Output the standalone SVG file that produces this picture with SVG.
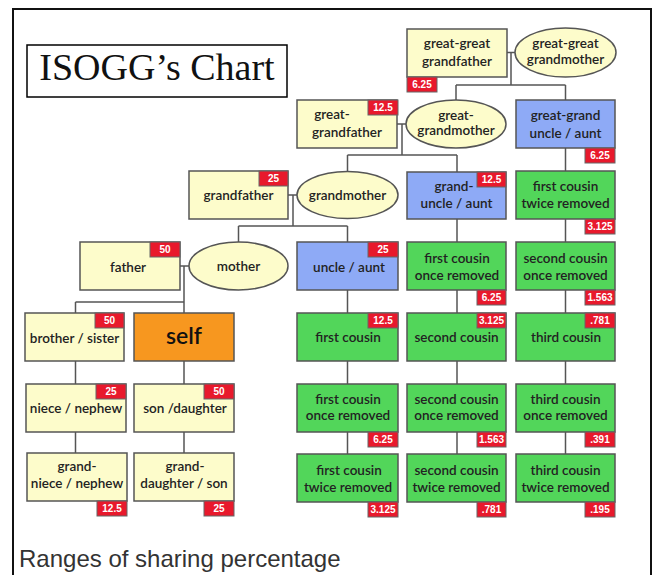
<svg xmlns="http://www.w3.org/2000/svg" width="655" height="575" viewBox="0 0 655 575">
<style>
.bx{stroke:#555;stroke-width:1.5}
.cr{fill:#fdfccb}
.bl{fill:#8eaaf6}
.gr{fill:#52d65a}
.or{fill:#f7971f}
.t{font-family:Lato,"Liberation Sans",sans-serif;font-size:13.5px;font-weight:600;fill:#222;text-anchor:middle}
.bd rect{fill:#e8192c;stroke:#666;stroke-width:1}
.bd text{font-family:"Liberation Sans",Arial,sans-serif;font-size:10px;font-weight:bold;fill:#fff;text-anchor:middle}
.cn{fill:none;stroke:#555;stroke-width:1.5}
</style>
<rect width="655" height="575" fill="#fff"/>
<path d="M13,580 V9 H651 V580" fill="none" stroke="#111" stroke-width="2"/>
<g id="title">
<rect x="27" y="45" width="260" height="52" fill="#fff" stroke="#000" stroke-width="1.5"/>
<text x="157" y="80" font-family="Liberation Serif,serif" font-size="38" text-anchor="middle" fill="#111">ISOGG’s Chart</text>
</g>
<g id="connectors" class="cn">
<path d="M507,52.5 H515 M511,52.5 V85 M456,85 H565.5 M456,85 V100 M565.5,85 V100"/>
<path d="M397,124 H406 M402,124 V155 M347.5,155 H457 M347.5,155 V172 M457,155 V172"/>
<path d="M288,195 H297 M293,195 V226 M238.5,226 H347.5 M238.5,226 V242 M347.5,226 V242"/>
<path d="M180,266 H189 M184,266 V302 M75.5,302 H184 M75.5,302 V313 M184,302 V313"/>
<path d="M75.5,361 V384 M75.5,432 V454"/>
<path d="M184,361 V384 M184,432 V454"/>
<path d="M347.5,290 V313 M347.5,361 V384 M347.5,432 V454"/>
<path d="M457,219 V242 M457,290 V313 M457,361 V384 M457,432 V454"/>
<path d="M565.5,148 V171 M565.5,219 V242 M565.5,290 V313 M565.5,361 V384 M565.5,432 V454"/>
</g>
<g id="ggf"><rect class="bx cr" x="407" y="29" width="100" height="48"/><text class="t" x="457" y="48">great-great</text><text class="t" x="457" y="66">grandfather</text>
<g class="bd"><rect x="407" y="77" width="30" height="15"/><text x="422" y="88">6.25</text></g></g>
<g id="ggm"><ellipse class="bx cr" cx="565.5" cy="52.5" rx="50.5" ry="24.5"/><text class="t" x="565.5" y="48">great-great</text><text class="t" x="565.5" y="64">grandmother</text></g>
<g id="gf2"><rect class="bx cr" x="297" y="100" width="100" height="48"/><text class="t" x="332" y="119">great-</text><text class="t" x="347" y="137">grandfather</text>
<g class="bd"><rect x="368" y="100" width="30" height="15"/><text x="383" y="111">12.5</text></g></g>
<g id="gm2"><ellipse class="bx cr" cx="456" cy="124" rx="50" ry="24"/><text class="t" x="456" y="120">great-</text><text class="t" x="456" y="135">grandmother</text></g>
<g id="ggua"><rect class="bx bl" x="516" y="100" width="99" height="48"/><text class="t" x="565.5" y="120">great-grand</text><text class="t" x="565.5" y="138">uncle / aunt</text>
<g class="bd"><rect x="585" y="148" width="30" height="15"/><text x="600" y="159">6.25</text></g></g>
<g id="gf"><rect class="bx cr" x="189" y="171" width="99" height="48"/><text class="t" x="238.5" y="200">grandfather</text>
<g class="bd"><rect x="259" y="171" width="29" height="15"/><text x="273.5" y="182">25</text></g></g>
<g id="gm"><ellipse class="bx cr" cx="347.5" cy="195" rx="50.5" ry="23.5"/><text class="t" x="347.5" y="200">grandmother</text></g>
<g id="gua"><rect class="bx bl" x="407" y="172" width="99" height="47"/><text class="t" x="454" y="191">grand-</text><text class="t" x="456.5" y="208">uncle / aunt</text>
<g class="bd"><rect x="477" y="172" width="29" height="15"/><text x="491.5" y="183">12.5</text></g></g>
<g id="fc2r_top"><rect class="bx gr" x="516" y="171" width="99" height="48"/><text class="t" x="565.5" y="191">first cousin</text><text class="t" x="565.5" y="208">twice removed</text>
<g class="bd"><rect x="585" y="219" width="30" height="15"/><text x="600" y="230">3.125</text></g></g>
<g id="father"><rect class="bx cr" x="80" y="242" width="100" height="48"/><text class="t" x="128" y="272">father</text>
<g class="bd"><rect x="150" y="242" width="30" height="15"/><text x="165" y="253">50</text></g></g>
<g id="mother"><ellipse class="bx cr" cx="238.5" cy="266" rx="49.5" ry="24"/><text class="t" x="238.5" y="271">mother</text></g>
<g id="ua"><rect class="bx bl" x="297" y="242" width="101" height="48"/><text class="t" x="349" y="272">uncle / aunt</text>
<g class="bd"><rect x="368" y="242" width="30" height="15"/><text x="383" y="253">25</text></g></g>
<g id="fc1r_c"><rect class="bx gr" x="407" y="242" width="99" height="48"/><text class="t" x="457" y="263">first cousin</text><text class="t" x="457" y="280">once removed</text>
<g class="bd"><rect x="477" y="290" width="29" height="15"/><text x="491.5" y="301">6.25</text></g></g>
<g id="sc1r_d"><rect class="bx gr" x="516" y="242" width="99" height="48"/><text class="t" x="565.5" y="263">second cousin</text><text class="t" x="565.5" y="280">once removed</text>
<g class="bd"><rect x="585" y="290" width="30" height="15"/><text x="600" y="301">1.563</text></g></g>
<g id="brother"><rect class="bx cr" x="25" y="313" width="99" height="48"/><text class="t" x="74.5" y="343">brother / sister</text>
<g class="bd"><rect x="95" y="313" width="29" height="15"/><text x="109.5" y="324">50</text></g></g>
<g id="self"><rect class="bx or" x="134" y="313" width="100" height="48"/><text x="184" y="344" font-family="Lato,'Liberation Sans',sans-serif" font-size="23" font-weight="600" fill="#111" text-anchor="middle">self</text></g>
<g id="fc"><rect class="bx gr" x="297" y="313" width="101" height="48"/><text class="t" x="348" y="342">first cousin</text>
<g class="bd"><rect x="368" y="313" width="30" height="15"/><text x="383" y="324">12.5</text></g></g>
<g id="sc"><rect class="bx gr" x="407" y="313" width="99" height="48"/><text class="t" x="456.5" y="342">second cousin</text>
<g class="bd"><rect x="477" y="313" width="29" height="15"/><text x="491.5" y="324">3.125</text></g></g>
<g id="tc"><rect class="bx gr" x="516" y="313" width="99" height="48"/><text class="t" x="566" y="342">third cousin</text>
<g class="bd"><rect x="585" y="313" width="30" height="15"/><text x="600" y="324">.781</text></g></g>
<g id="niece"><rect class="bx cr" x="26" y="384" width="100" height="48"/><text class="t" x="76" y="413">niece / nephew</text>
<g class="bd"><rect x="96" y="384" width="30" height="15"/><text x="111" y="395">25</text></g></g>
<g id="son"><rect class="bx cr" x="134" y="384" width="100" height="48"/><text class="t" x="185" y="413">son /daughter</text>
<g class="bd"><rect x="204" y="384" width="30" height="15"/><text x="219" y="395">50</text></g></g>
<g id="fc1r"><rect class="bx gr" x="297" y="384" width="101" height="48"/><text class="t" x="348" y="404">first cousin</text><text class="t" x="348" y="420">once removed</text>
<g class="bd"><rect x="368" y="432" width="30" height="15"/><text x="383" y="443">6.25</text></g></g>
<g id="sc1r"><rect class="bx gr" x="407" y="384" width="99" height="48"/><text class="t" x="456.5" y="404">second cousin</text><text class="t" x="456.5" y="420">once removed</text>
<g class="bd"><rect x="477" y="432" width="29" height="15"/><text x="491.5" y="443">1.563</text></g></g>
<g id="tc1r"><rect class="bx gr" x="516" y="384" width="99" height="48"/><text class="t" x="565.5" y="404">third cousin</text><text class="t" x="565.5" y="420">once removed</text>
<g class="bd"><rect x="585" y="432" width="30" height="15"/><text x="600" y="443">.391</text></g></g>
<g id="gniece"><rect class="bx cr" x="27" y="453" width="100" height="48"/><text class="t" x="77" y="471">grand-</text><text class="t" x="77" y="488">niece / nephew</text>
<g class="bd"><rect x="97" y="501" width="30" height="15"/><text x="112" y="512">12.5</text></g></g>
<g id="gdau"><rect class="bx cr" x="134" y="453" width="100" height="48"/><text class="t" x="185" y="471">grand-</text><text class="t" x="184" y="488">daughter / son</text>
<g class="bd"><rect x="204" y="501" width="30" height="15"/><text x="219" y="512">25</text></g></g>
<g id="fc2r"><rect class="bx gr" x="297" y="454" width="101" height="48"/><text class="t" x="349" y="475">first cousin</text><text class="t" x="348" y="492">twice removed</text>
<g class="bd"><rect x="368" y="502" width="30" height="15"/><text x="383" y="513">3.125</text></g></g>
<g id="sc2r"><rect class="bx gr" x="407" y="454" width="99" height="48"/><text class="t" x="456.5" y="475">second cousin</text><text class="t" x="456.5" y="492">twice removed</text>
<g class="bd"><rect x="477" y="502" width="29" height="15"/><text x="491.5" y="513">.781</text></g></g>
<g id="tc2r"><rect class="bx gr" x="516" y="454" width="99" height="48"/><text class="t" x="565.5" y="475">third cousin</text><text class="t" x="565.5" y="492">twice removed</text>
<g class="bd"><rect x="585" y="502" width="30" height="15"/><text x="600" y="513">.195</text></g></g>
<text x="19" y="567" font-family="Liberation Sans,Arial,sans-serif" font-size="24" fill="#333">Ranges of sharing percentage</text>
</svg>
